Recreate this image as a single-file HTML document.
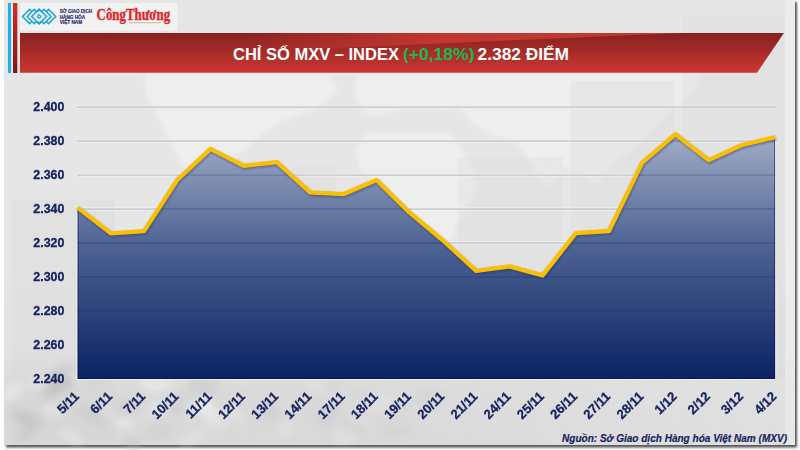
<!DOCTYPE html>
<html><head><meta charset="utf-8">
<style>
html,body{margin:0;padding:0;background:#fff;width:800px;height:450px;overflow:hidden;}
svg{font-family:"Liberation Sans",sans-serif;}
#stage{position:absolute;left:0;top:0;width:800px;height:450px;}
</style></head>
<body>
<svg id="stage" width="800" height="450" viewBox="0 0 800 450">
<defs>
  <linearGradient id="panelBg" x1="0" y1="0" x2="0" y2="1">
    <stop offset="0" stop-color="#e6e6e6"/>
    <stop offset="0.55" stop-color="#e6e6e6"/>
    <stop offset="1" stop-color="#dfdfdf"/>
  </linearGradient>
  <linearGradient id="bannerG" x1="0" y1="0" x2="0" y2="1">
    <stop offset="0" stop-color="#862120"/>
    <stop offset="1" stop-color="#cb3731"/>
  </linearGradient>
  <linearGradient id="redBar" x1="0" y1="0" x2="0" y2="1">
    <stop offset="0" stop-color="#d42b22"/>
    <stop offset="1" stop-color="#7c1a16"/>
  </linearGradient>
  <linearGradient id="lightWedge" x1="0" y1="0" x2="1" y2="0">
    <stop offset="0" stop-color="#c63a31" stop-opacity="0"/>
    <stop offset="0.45" stop-color="#c63a31" stop-opacity="1"/>
    <stop offset="1" stop-color="#c63a31" stop-opacity="1"/>
  </linearGradient>
  <linearGradient id="areaG" gradientUnits="userSpaceOnUse" x1="0" y1="134" x2="0" y2="379.0">
    <stop offset="0" stop-color="#a3acc6"/>
    <stop offset="0.45" stop-color="#4e6494"/>
    <stop offset="1" stop-color="#0b2364"/>
  </linearGradient>
  <linearGradient id="beansG" x1="0" y1="0" x2="1" y2="0">
    <stop offset="0" stop-color="#cfcfcf" stop-opacity="0.4"/>
    <stop offset="0.45" stop-color="#d0d0d0" stop-opacity="0.4"/>
    <stop offset="0.75" stop-color="#d8d8d8" stop-opacity="0.25"/>
    <stop offset="1" stop-color="#dddddd" stop-opacity="0.1"/>
  </linearGradient>
  <linearGradient id="vfade" x1="0" y1="0" x2="0" y2="1">
    <stop offset="0" stop-color="#fff" stop-opacity="0"/>
    <stop offset="0.45" stop-color="#fff" stop-opacity="1"/>
    <stop offset="1" stop-color="#fff" stop-opacity="1"/>
  </linearGradient>
  <mask id="beansM" maskUnits="userSpaceOnUse" x="0" y="350" width="800" height="100"><rect x="0" y="350" width="800" height="95" fill="url(#vfade)"/></mask>
  <filter id="bl2" x="-20%" y="-20%" width="140%" height="140%"><feGaussianBlur stdDeviation="2"/></filter>
  <filter id="bl3" x="-50%" y="-50%" width="200%" height="200%"><feGaussianBlur stdDeviation="3"/></filter>
  <clipPath id="areaClip"><path d="M77.6,379.0 L77.6,207.6 L110.8,233.3 L144.0,231.1 L177.2,180.0 L210.5,148.9 L243.7,165.8 L276.9,162.2 L310.1,192.4 L343.3,194.2 L376.5,180.0 L409.7,212.7 L443.0,240.5 L476.2,270.8 L509.4,266.4 L542.6,275.3 L575.8,233.1 L609.0,231.0 L642.2,162.6 L675.5,134.2 L708.7,160.1 L741.9,145.0 L775.1,137.2 L775.1,379.0 Z"/></clipPath>
  <filter id="lsh" x="-5%" y="-20%" width="110%" height="140%"><feGaussianBlur stdDeviation="0.8"/></filter>
  <filter id="sh" x="-5%" y="-5%" width="110%" height="110%">
    <feGaussianBlur stdDeviation="1"/>
  </filter>
</defs>
<!-- panel shadow -->
<rect x="6" y="2" width="791" height="445.5" fill="#555" filter="url(#sh)"/>
<rect x="4" y="0" width="791" height="445" fill="url(#panelBg)"/>
<g id="map" fill="#f6f6f6" opacity="0.55" filter="url(#bl2)">
  <polygon points="145,74 330,74 338,92 318,108 280,122 262,134 246,150 224,160 204,176 184,168 170,140 156,112 146,92"/>
  
  <polygon points="356,74 462,74 462,106 442,110 420,108 398,110 380,116 364,112 356,96"/>
  <polygon points="366,134 452,134 468,160 478,186 462,216 446,250 430,286 414,290 404,250 394,212 380,186 360,170 356,150"/>
  <polygon points="462,74 704,74 694,94 672,110 652,130 632,150 612,166 596,186 580,176 566,166 548,186 532,166 516,142 492,136 472,122 462,110"/>
  <polygon points="640,98 660,92 664,112 650,132 636,138 632,128"/>
</g>
<g id="bgdeco">
  <rect x="785" y="0" width="10" height="445" fill="#f0f0f0" opacity="0.6"/>
  <rect x="571" y="81" width="104" height="300" fill="#d9d9d9" opacity="0.35"/>
  <rect x="683" y="16" width="102" height="365" fill="#d9d9d9" opacity="0.35"/>
  <rect x="458" y="157" width="105" height="225" fill="#d9d9d9" opacity="0.3"/>
  <rect x="290" y="167" width="46" height="100" fill="#d9d9d9" opacity="0.25"/>
  <rect x="12" y="200" width="103" height="245" fill="#d6d6d6" opacity="0.3"/>
  <rect x="4" y="350" width="791" height="95" fill="url(#beansG)" mask="url(#beansM)"/>
  <g filter="url(#bl3)"><ellipse cx="149" cy="377" rx="13" ry="5" transform="rotate(3 149 377)" fill="#bdbdbd" opacity="0.20"/><ellipse cx="231" cy="368" rx="11" ry="5" transform="rotate(-33 231 368)" fill="#bdbdbd" opacity="0.28"/><ellipse cx="60" cy="383" rx="13" ry="9" transform="rotate(6 60 383)" fill="#bdbdbd" opacity="0.44"/><ellipse cx="26" cy="434" rx="10" ry="6" transform="rotate(-31 26 434)" fill="#bdbdbd" opacity="0.43"/><ellipse cx="85" cy="412" rx="13" ry="6" transform="rotate(4 85 412)" fill="#bdbdbd" opacity="0.23"/><ellipse cx="97" cy="419" rx="11" ry="6" transform="rotate(7 97 419)" fill="#bdbdbd" opacity="0.27"/><ellipse cx="358" cy="421" rx="10" ry="7" transform="rotate(2 358 421)" fill="#f2f2f2" opacity="0.17"/><ellipse cx="133" cy="443" rx="9" ry="7" transform="rotate(21 133 443)" fill="#bdbdbd" opacity="0.29"/><ellipse cx="22" cy="418" rx="14" ry="7" transform="rotate(30 22 418)" fill="#bdbdbd" opacity="0.41"/><ellipse cx="269" cy="411" rx="12" ry="8" transform="rotate(36 269 411)" fill="#bdbdbd" opacity="0.23"/><ellipse cx="32" cy="421" rx="13" ry="9" transform="rotate(26 32 421)" fill="#bdbdbd" opacity="0.33"/><ellipse cx="303" cy="367" rx="12" ry="6" transform="rotate(-31 303 367)" fill="#bdbdbd" opacity="0.22"/><ellipse cx="63" cy="385" rx="11" ry="8" transform="rotate(-34 63 385)" fill="#bdbdbd" opacity="0.35"/><ellipse cx="398" cy="431" rx="15" ry="6" transform="rotate(-7 398 431)" fill="#bdbdbd" opacity="0.16"/><ellipse cx="431" cy="377" rx="9" ry="6" transform="rotate(-21 431 377)" fill="#bdbdbd" opacity="0.11"/><ellipse cx="122" cy="365" rx="11" ry="6" transform="rotate(5 122 365)" fill="#f2f2f2" opacity="0.34"/><ellipse cx="234" cy="414" rx="13" ry="5" transform="rotate(32 234 414)" fill="#f2f2f2" opacity="0.29"/><ellipse cx="360" cy="396" rx="11" ry="5" transform="rotate(11 360 396)" fill="#bdbdbd" opacity="0.11"/><ellipse cx="98" cy="378" rx="11" ry="5" transform="rotate(-40 98 378)" fill="#bdbdbd" opacity="0.23"/><ellipse cx="167" cy="367" rx="15" ry="7" transform="rotate(-28 167 367)" fill="#bdbdbd" opacity="0.24"/><ellipse cx="167" cy="375" rx="15" ry="9" transform="rotate(-3 167 375)" fill="#bdbdbd" opacity="0.20"/><ellipse cx="50" cy="392" rx="10" ry="8" transform="rotate(-27 50 392)" fill="#bdbdbd" opacity="0.45"/><ellipse cx="240" cy="377" rx="12" ry="5" transform="rotate(2 240 377)" fill="#f2f2f2" opacity="0.28"/><ellipse cx="315" cy="386" rx="11" ry="6" transform="rotate(22 315 386)" fill="#f2f2f2" opacity="0.21"/><ellipse cx="152" cy="383" rx="14" ry="9" transform="rotate(28 152 383)" fill="#f2f2f2" opacity="0.34"/><ellipse cx="334" cy="383" rx="12" ry="6" transform="rotate(-38 334 383)" fill="#bdbdbd" opacity="0.14"/><ellipse cx="120" cy="420" rx="16" ry="7" transform="rotate(35 120 420)" fill="#f2f2f2" opacity="0.39"/><ellipse cx="167" cy="383" rx="10" ry="6" transform="rotate(-24 167 383)" fill="#f2f2f2" opacity="0.34"/><ellipse cx="379" cy="403" rx="13" ry="8" transform="rotate(-33 379 403)" fill="#f2f2f2" opacity="0.18"/><ellipse cx="353" cy="425" rx="12" ry="6" transform="rotate(23 353 425)" fill="#bdbdbd" opacity="0.19"/><ellipse cx="437" cy="397" rx="11" ry="9" transform="rotate(18 437 397)" fill="#bdbdbd" opacity="0.08"/><ellipse cx="72" cy="437" rx="14" ry="6" transform="rotate(26 72 437)" fill="#f2f2f2" opacity="0.36"/><ellipse cx="161" cy="409" rx="9" ry="5" transform="rotate(38 161 409)" fill="#f2f2f2" opacity="0.28"/><ellipse cx="420" cy="400" rx="15" ry="8" transform="rotate(-23 420 400)" fill="#bdbdbd" opacity="0.10"/><ellipse cx="112" cy="412" rx="10" ry="7" transform="rotate(-30 112 412)" fill="#f2f2f2" opacity="0.28"/><ellipse cx="209" cy="412" rx="15" ry="7" transform="rotate(33 209 412)" fill="#f2f2f2" opacity="0.25"/><ellipse cx="238" cy="366" rx="12" ry="6" transform="rotate(-40 238 366)" fill="#f2f2f2" opacity="0.18"/><ellipse cx="216" cy="423" rx="12" ry="6" transform="rotate(1 216 423)" fill="#f2f2f2" opacity="0.29"/><ellipse cx="52" cy="410" rx="10" ry="6" transform="rotate(22 52 410)" fill="#f2f2f2" opacity="0.36"/><ellipse cx="343" cy="438" rx="12" ry="7" transform="rotate(0 343 438)" fill="#f2f2f2" opacity="0.18"/><ellipse cx="206" cy="408" rx="12" ry="9" transform="rotate(16 206 408)" fill="#f2f2f2" opacity="0.32"/><ellipse cx="121" cy="410" rx="16" ry="8" transform="rotate(-29 121 410)" fill="#bdbdbd" opacity="0.29"/><ellipse cx="37" cy="384" rx="9" ry="8" transform="rotate(23 37 384)" fill="#f2f2f2" opacity="0.27"/><ellipse cx="324" cy="418" rx="9" ry="9" transform="rotate(37 324 418)" fill="#bdbdbd" opacity="0.22"/><ellipse cx="182" cy="404" rx="16" ry="8" transform="rotate(-27 182 404)" fill="#bdbdbd" opacity="0.26"/><ellipse cx="156" cy="381" rx="11" ry="8" transform="rotate(-38 156 381)" fill="#f2f2f2" opacity="0.27"/><ellipse cx="13" cy="392" rx="13" ry="7" transform="rotate(-35 13 392)" fill="#f2f2f2" opacity="0.44"/><ellipse cx="437" cy="373" rx="10" ry="5" transform="rotate(22 437 373)" fill="#bdbdbd" opacity="0.08"/><ellipse cx="193" cy="438" rx="15" ry="6" transform="rotate(-28 193 438)" fill="#f2f2f2" opacity="0.27"/><ellipse cx="317" cy="372" rx="8" ry="8" transform="rotate(-6 317 372)" fill="#bdbdbd" opacity="0.23"/><ellipse cx="287" cy="429" rx="9" ry="8" transform="rotate(-35 287 429)" fill="#f2f2f2" opacity="0.19"/><ellipse cx="156" cy="409" rx="15" ry="6" transform="rotate(-30 156 409)" fill="#f2f2f2" opacity="0.23"/><ellipse cx="54" cy="378" rx="8" ry="6" transform="rotate(-15 54 378)" fill="#bdbdbd" opacity="0.40"/><ellipse cx="134" cy="405" rx="9" ry="6" transform="rotate(-39 134 405)" fill="#bdbdbd" opacity="0.20"/><ellipse cx="331" cy="409" rx="10" ry="7" transform="rotate(35 331 409)" fill="#bdbdbd" opacity="0.20"/><ellipse cx="197" cy="405" rx="15" ry="7" transform="rotate(1 197 405)" fill="#f2f2f2" opacity="0.33"/><ellipse cx="158" cy="432" rx="14" ry="8" transform="rotate(-8 158 432)" fill="#bdbdbd" opacity="0.19"/><ellipse cx="63" cy="371" rx="14" ry="6" transform="rotate(-27 63 371)" fill="#bdbdbd" opacity="0.41"/><ellipse cx="392" cy="419" rx="10" ry="6" transform="rotate(-17 392 419)" fill="#bdbdbd" opacity="0.10"/><ellipse cx="203" cy="386" rx="16" ry="9" transform="rotate(4 203 386)" fill="#bdbdbd" opacity="0.32"/></g>
</g>

<!-- left bars -->
<rect x="8" y="3" width="3" height="70" fill="#18b2ee"/>
<rect x="13" y="3" width="4.3" height="70" fill="url(#redBar)"/>

<!-- logo box -->
<rect x="20" y="3" width="157.5" height="27.5" fill="#f2f2f2"/>
<g fill="none" stroke="#1ea6e4" stroke-width="1.5" stroke-linejoin="miter">
    <polyline points="31.80,11.60 29.60,9.4 22.50,16.5 29.60,23.6 31.80,21.40"/>
    <polyline points="36.40,11.60 34.20,9.4 27.10,16.5 34.20,23.6 36.40,21.40"/>
    <polyline points="41.00,11.60 38.80,9.4 31.70,16.5 38.80,23.6 41.00,21.40"/>
    <polyline points="46.40,11.60 48.60,9.4 55.70,16.5 48.60,23.6 46.40,21.40"/>
    <polyline points="41.80,11.60 44.00,9.4 51.10,16.5 44.00,23.6 41.80,21.40"/>
    <polyline points="37.20,11.60 39.40,9.4 46.50,16.5 39.40,23.6 37.20,21.40"/>
</g>
<rect x="37.9" y="15.2" width="2.6" height="2.6" fill="none" stroke="#1ea6e4" stroke-width="1.2" transform="rotate(45 39.2 16.5)"/>
<g fill="#28286c" stroke="#28286c" stroke-width="0.15" font-size="4.6" font-weight="bold">
  <text x="59.7" y="13.4" textLength="32.3" lengthAdjust="spacingAndGlyphs">SỞ GIAO DỊCH</text>
  <text x="59.7" y="18.6" textLength="25.3" lengthAdjust="spacingAndGlyphs">HÀNG HÓA</text>
  <text x="59.7" y="23.6" textLength="22.5" lengthAdjust="spacingAndGlyphs">VIỆT NAM</text>
</g>
<text x="96.6" y="20" style="font-family:'Liberation Serif',serif" font-size="16" font-weight="bold" fill="#e21f26" stroke="#e21f26" stroke-width="0.35" textLength="73.5" lengthAdjust="spacingAndGlyphs">CôngThương</text>
<rect x="128.8" y="22" width="32" height="1.3" fill="#d2b48c" opacity="0.8"/>

<!-- banner -->
<polygon points="20,33 784,33 757,72.7 20,72.7" fill="url(#bannerG)"/>
<polygon points="240,33 682,33 240,52" fill="url(#lightWedge)" opacity="0.9"/>

<g font-size="16.5" font-weight="bold" fill="#fff">
<text x="233" y="59.6">CHỈ SỐ MXV – INDEX</text>
<text x="402.9" y="59.6" fill="#17b852" textLength="71.6" lengthAdjust="spacingAndGlyphs">(+0,18%)</text>
<text x="477.6" y="59.6" textLength="91.4" lengthAdjust="spacingAndGlyphs">2.382 ĐIỂM</text>
</g>

<!-- chart -->
<g stroke="#f6f4f0" stroke-width="1" stroke-opacity="0.6" transform="translate(0,-1.4)">
  <line x1="77.5" x2="775.5" y1="107.20" y2="107.20"/>
  <line x1="77.5" x2="775.5" y1="141.15" y2="141.15"/>
  <line x1="77.5" x2="775.5" y1="175.10" y2="175.10"/>
  <line x1="77.5" x2="775.5" y1="209.05" y2="209.05"/>
  <line x1="77.5" x2="775.5" y1="243.00" y2="243.00"/>
  <line x1="77.5" x2="775.5" y1="276.95" y2="276.95"/>
  <line x1="77.5" x2="775.5" y1="310.90" y2="310.90"/>
  <line x1="77.5" x2="775.5" y1="344.85" y2="344.85"/>
</g>
<g stroke="#f6f4f0" stroke-width="1" stroke-opacity="0.45" transform="translate(0,1.4)">
  <line x1="77.5" x2="775.5" y1="107.20" y2="107.20"/>
  <line x1="77.5" x2="775.5" y1="141.15" y2="141.15"/>
  <line x1="77.5" x2="775.5" y1="175.10" y2="175.10"/>
  <line x1="77.5" x2="775.5" y1="209.05" y2="209.05"/>
  <line x1="77.5" x2="775.5" y1="243.00" y2="243.00"/>
  <line x1="77.5" x2="775.5" y1="276.95" y2="276.95"/>
  <line x1="77.5" x2="775.5" y1="310.90" y2="310.90"/>
  <line x1="77.5" x2="775.5" y1="344.85" y2="344.85"/>
</g>
<g stroke="#c9cfda" stroke-width="1.7">
  <line x1="77.5" x2="775.5" y1="107.20" y2="107.20"/>
  <line x1="77.5" x2="775.5" y1="141.15" y2="141.15"/>
  <line x1="77.5" x2="775.5" y1="175.10" y2="175.10"/>
  <line x1="77.5" x2="775.5" y1="209.05" y2="209.05"/>
  <line x1="77.5" x2="775.5" y1="243.00" y2="243.00"/>
  <line x1="77.5" x2="775.5" y1="276.95" y2="276.95"/>
  <line x1="77.5" x2="775.5" y1="310.90" y2="310.90"/>
  <line x1="77.5" x2="775.5" y1="344.85" y2="344.85"/>
</g>
<path d="M77.6,379.0 L77.6,207.6 L110.8,233.3 L144.0,231.1 L177.2,180.0 L210.5,148.9 L243.7,165.8 L276.9,162.2 L310.1,192.4 L343.3,194.2 L376.5,180.0 L409.7,212.7 L443.0,240.5 L476.2,270.8 L509.4,266.4 L542.6,275.3 L575.8,233.1 L609.0,231.0 L642.2,162.6 L675.5,134.2 L708.7,160.1 L741.9,145.0 L775.1,137.2 L775.1,379.0 Z" fill="none" stroke="#fffbf2" stroke-width="2.2" stroke-opacity="0.65"/>
<path d="M77.6,379.0 L77.6,207.6 L110.8,233.3 L144.0,231.1 L177.2,180.0 L210.5,148.9 L243.7,165.8 L276.9,162.2 L310.1,192.4 L343.3,194.2 L376.5,180.0 L409.7,212.7 L443.0,240.5 L476.2,270.8 L509.4,266.4 L542.6,275.3 L575.8,233.1 L609.0,231.0 L642.2,162.6 L675.5,134.2 L708.7,160.1 L741.9,145.0 L775.1,137.2 L775.1,379.0 Z" fill="url(#areaG)"/>
<path d="M77.6,379.0 L77.6,207.6 L110.8,233.3 L144.0,231.1 L177.2,180.0 L210.5,148.9 L243.7,165.8 L276.9,162.2 L310.1,192.4 L343.3,194.2 L376.5,180.0 L409.7,212.7 L443.0,240.5 L476.2,270.8 L509.4,266.4 L542.6,275.3 L575.8,233.1 L609.0,231.0 L642.2,162.6 L675.5,134.2 L708.7,160.1 L741.9,145.0 L775.1,137.2 L775.1,379.0 Z" fill="none" stroke="#06114f" stroke-width="2" stroke-opacity="0.55" clip-path="url(#areaClip)"/>
<g stroke="#0c1d5e" stroke-width="1.4" stroke-opacity="0.2" clip-path="url(#areaClip)">
  <line x1="77.5" x2="775.5" y1="107.20" y2="107.20"/>
  <line x1="77.5" x2="775.5" y1="141.15" y2="141.15"/>
  <line x1="77.5" x2="775.5" y1="175.10" y2="175.10"/>
  <line x1="77.5" x2="775.5" y1="209.05" y2="209.05"/>
  <line x1="77.5" x2="775.5" y1="243.00" y2="243.00"/>
  <line x1="77.5" x2="775.5" y1="276.95" y2="276.95"/>
  <line x1="77.5" x2="775.5" y1="310.90" y2="310.90"/>
  <line x1="77.5" x2="775.5" y1="344.85" y2="344.85"/>
</g>
<polyline points="77.6,207.6 110.8,233.3 144.0,231.1 177.2,180.0 210.5,148.9 243.7,165.8 276.9,162.2 310.1,192.4 343.3,194.2 376.5,180.0 409.7,212.7 443.0,240.5 476.2,270.8 509.4,266.4 542.6,275.3 575.8,233.1 609.0,231.0 642.2,162.6 675.5,134.2 708.7,160.1 741.9,145.0 775.1,137.2" fill="none" stroke="#1a2a60" stroke-opacity="0.45" stroke-width="4.2" stroke-linejoin="round" transform="translate(0.6,1.4)" filter="url(#lsh)"/>
<polyline points="77.6,207.6 110.8,233.3 144.0,231.1 177.2,180.0 210.5,148.9 243.7,165.8 276.9,162.2 310.1,192.4 343.3,194.2 376.5,180.0 409.7,212.7 443.0,240.5 476.2,270.8 509.4,266.4 542.6,275.3 575.8,233.1 609.0,231.0 642.2,162.6 675.5,134.2 708.7,160.1 741.9,145.0 775.1,137.2" fill="none" stroke="#f9bf04" stroke-width="4.3" stroke-linejoin="round" stroke-linecap="butt"/>

<!-- y labels -->
<g font-size="12" font-weight="bold" fill="#172462" stroke="#172462" stroke-width="0.3" text-anchor="end">
  <text x="64.3" y="111.10" textLength="31" lengthAdjust="spacingAndGlyphs">2.400</text>
  <text x="64.3" y="145.05" textLength="31" lengthAdjust="spacingAndGlyphs">2.380</text>
  <text x="64.3" y="179.00" textLength="31" lengthAdjust="spacingAndGlyphs">2.360</text>
  <text x="64.3" y="212.95" textLength="31" lengthAdjust="spacingAndGlyphs">2.340</text>
  <text x="64.3" y="246.90" textLength="31" lengthAdjust="spacingAndGlyphs">2.320</text>
  <text x="64.3" y="280.85" textLength="31" lengthAdjust="spacingAndGlyphs">2.300</text>
  <text x="64.3" y="314.80" textLength="31" lengthAdjust="spacingAndGlyphs">2.280</text>
  <text x="64.3" y="348.75" textLength="31" lengthAdjust="spacingAndGlyphs">2.260</text>
  <text x="64.3" y="382.70" textLength="31" lengthAdjust="spacingAndGlyphs">2.240</text>
</g>

<!-- x labels -->
<g font-size="13" font-weight="bold" fill="#172462" stroke="#172462" stroke-width="0.3" text-anchor="end">
  <text transform="translate(79.8,397.2) rotate(-45)">5/11</text>
  <text transform="translate(113.0,397.2) rotate(-45)">6/11</text>
  <text transform="translate(146.2,397.2) rotate(-45)">7/11</text>
  <text transform="translate(179.4,397.2) rotate(-45)">10/11</text>
  <text transform="translate(212.7,397.2) rotate(-45)">11/11</text>
  <text transform="translate(245.9,397.2) rotate(-45)">12/11</text>
  <text transform="translate(279.1,397.2) rotate(-45)">13/11</text>
  <text transform="translate(312.3,397.2) rotate(-45)">14/11</text>
  <text transform="translate(345.5,397.2) rotate(-45)">17/11</text>
  <text transform="translate(378.7,397.2) rotate(-45)">18/11</text>
  <text transform="translate(411.9,397.2) rotate(-45)">19/11</text>
  <text transform="translate(445.2,397.2) rotate(-45)">20/11</text>
  <text transform="translate(478.4,397.2) rotate(-45)">21/11</text>
  <text transform="translate(511.6,397.2) rotate(-45)">24/11</text>
  <text transform="translate(544.8,397.2) rotate(-45)">25/11</text>
  <text transform="translate(578.0,397.2) rotate(-45)">26/11</text>
  <text transform="translate(611.2,397.2) rotate(-45)">27/11</text>
  <text transform="translate(644.4,397.2) rotate(-45)">28/11</text>
  <text transform="translate(677.7,397.2) rotate(-45)">1/12</text>
  <text transform="translate(710.9,397.2) rotate(-45)">2/12</text>
  <text transform="translate(744.1,397.2) rotate(-45)">3/12</text>
  <text transform="translate(777.3,397.2) rotate(-45)">4/12</text>
</g>

<!-- source -->
<text x="787" y="442.3" font-size="11.5" font-weight="bold" font-style="italic" fill="#172462" stroke="#172462" stroke-width="0.2" text-anchor="end" textLength="225" lengthAdjust="spacingAndGlyphs">Nguồn: Sở Giao dịch Hàng hóa Việt Nam (MXV)</text>
</svg>
</body></html>
